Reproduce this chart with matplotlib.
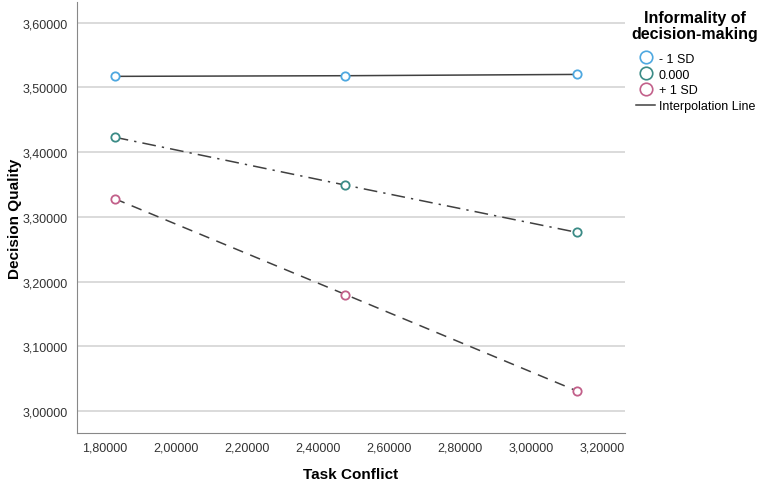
import matplotlib.pyplot as plt
from matplotlib.lines import Line2D
from matplotlib.ticker import FuncFormatter

plt.rcParams['font.family'] = ['Liberation Sans', 'DejaVu Sans']

# data
task_conflict = [1.828, 2.478, 3.130]
minus_1sd = [3.517, 3.518, 3.520]
mean_level = [3.423, 3.349, 3.276]
plus_1sd = [3.328, 3.180, 3.031]
series_labels = ['- 1 SD', '0.000', '+ 1 SD']
x_ticks = [1.8, 2.0, 2.2, 2.4, 2.6, 2.8, 3.0, 3.2]
y_ticks = [3.0, 3.1, 3.2, 3.3, 3.4, 3.5, 3.6]

colors = {'low': '#4ea8e0', 'mid': '#3b8b86', 'high': '#c2608a'}
line_color = '#404040'

fig = plt.figure(figsize=(7.63, 4.85), dpi=100)
ax = fig.add_axes([0.101, 0.105, 0.718, 0.889])

styles = [('-', colors['low']), ((0, (9, 4, 1.5, 4)), colors['mid']), ((0, (7, 5)), colors['high'])]
for yvals, (ls, c) in zip([minus_1sd, mean_level, plus_1sd], styles):
    ax.plot(task_conflict, yvals, color=line_color, linestyle=ls, linewidth=1.1, zorder=2)
    ax.plot(task_conflict, yvals, linestyle='none', marker='o', markersize=6,
            markerfacecolor='white', markeredgecolor=c, markeredgewidth=1.3, zorder=3)

ax.set_xlim(1.722, 3.265)
ax.set_ylim(2.966, 3.632)
ax.set_xticks(x_ticks)
ax.set_yticks(y_ticks)
fmt = FuncFormatter(lambda v, p: ('%.5f' % v).replace('.', ','))
ax.xaxis.set_major_formatter(fmt)
ax.yaxis.set_major_formatter(fmt)
ax.tick_params(length=0, labelsize=9, colors='#333333')
ax.tick_params(axis='y', pad=7)
ax.tick_params(axis='x', pad=6)
ax.grid(axis='y', color='#d4d4d4', linewidth=1.2)
ax.set_axisbelow(True)

ax.spines['top'].set_visible(False)
ax.spines['right'].set_visible(False)
ax.spines['left'].set_color('#888888')
ax.spines['bottom'].set_color('#888888')

ax.set_xlabel('Task Conflict', fontsize=11, fontweight='bold')
ax.set_ylabel('Decision Quality', fontsize=11, fontweight='bold')
ax.xaxis.set_label_coords(0.5, -0.079)
ax.yaxis.set_label_coords(-0.100, 0.5)

# legend title as its own text, centred above the entries
fig.text(0.911, 0.977, 'Informality of\ndecision-making', ha='center', va='top',
         fontsize=11.5, fontweight='bold', linespacing=1.05)

handles = [Line2D([], [], linestyle='none', marker='o', markersize=9, markerfacecolor='white',
                  markeredgecolor=c, markeredgewidth=1.2) for c in colors.values()]
handles.append(Line2D([], [], color=line_color, linewidth=1.1))
leg = fig.legend(handles, series_labels + ['Interpolation Line'], loc='upper left',
                 bbox_to_anchor=(0.834, 0.889), frameon=False, fontsize=9,
                 handlelength=1.5, handletextpad=0.3, labelspacing=0.3,
                 borderaxespad=0, borderpad=0)

plt.savefig('out.png', dpi=100)
